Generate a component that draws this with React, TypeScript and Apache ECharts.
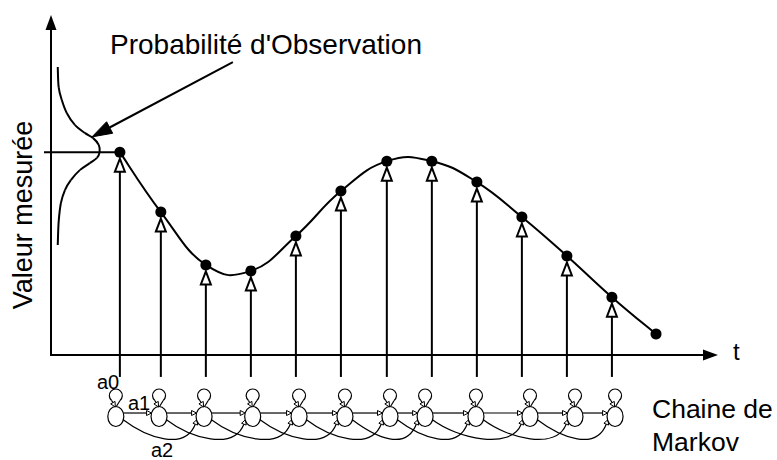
import React, { useEffect, useRef } from 'react';
import * as echarts from 'echarts';

// Measured curve (time index t, measured value v)
const pointT = [0.09, 1, 2, 3, 4, 5, 6.02, 7.02, 8.02, 9.02, 10.02, 11.02, 12];
const pointV = [6.1, 4.3, 2.71, 2.53, 3.58, 4.93, 5.83, 5.83, 5.2, 4.15, 2.98, 1.74, 0.63];
const observedCount = 12;
const arrowBaseV = -0.66;

// Observation probability curve drawn sideways on the value axis
const obsCurveT = [-1.29, -1.27, -1.2, -1.09, -0.91, -0.69, -0.51, -0.38, -0.36, -0.42, -0.58, -0.8, -1.0, -1.13, -1.22, -1.27, -1.29];
const obsCurveV = [8.66, 8.06, 7.67, 7.28, 6.92, 6.68, 6.53, 6.32, 6.1, 5.93, 5.77, 5.56, 5.26, 4.96, 4.57, 4.0, 3.31];
const measuredV = 6.1;
const annotationFrom = [2.6, 8.81];
const annotationTo = [-0.53, 6.56];

// Markov chain states
const markovT = [0.0, 0.96, 1.96, 3.04, 4.07, 5.09, 6.09, 6.87, 8.0, 9.2, 10.2, 11.09];
const markovV = -1.85;

const tMin = -1.44;
const tMax = 13.21;
const vMin = 0;
const vMax = 10;

const FONT = '"Liberation Sans", Arial, Helvetica, sans-serif';

function head(tip: number[], from: number[], len: number, hw: number) {
  const dx = tip[0] - from[0];
  const dy = tip[1] - from[1];
  const L = Math.hypot(dx, dy) || 1;
  const ux = dx / L;
  const uy = dy / L;
  const bx = tip[0] - ux * len;
  const by = tip[1] - uy * len;
  return {
    points: [[tip[0], tip[1]], [bx - uy * hw, by + ux * hw], [bx + uy * hw, by - ux * hw]],
    base: [bx, by],
  };
}

// Smooth curve through points (Catmull-Rom style), drawn segment by segment
function smoothSeries(name: string, ts: number[], vs: number[], k: number) {
  return {
    name,
    type: 'custom',
    coordinateSystem: 'cartesian2d',
    clip: false,
    silent: true,
    data: ts.slice(0, ts.length - 1).map((t, i) => [t, vs[i]]),
    renderItem: (params: any, api: any) => {
      const i = params.dataIndex;
      const n = ts.length;
      const P = (j: number) => api.coord([ts[Math.max(0, Math.min(n - 1, j))], vs[Math.max(0, Math.min(n - 1, j))]]);
      const p0 = P(i - 1);
      const p1 = P(i);
      const p2 = P(i + 1);
      const p3 = P(i + 2);
      return {
        type: 'bezierCurve',
        shape: {
          x1: p1[0], y1: p1[1], x2: p2[0], y2: p2[1],
          cpx1: p1[0] + (p2[0] - p0[0]) * k,
          cpy1: p1[1] + (p2[1] - p0[1]) * k,
          cpx2: p2[0] - (p3[0] - p1[0]) * k,
          cpy2: p2[1] - (p3[1] - p1[1]) * k,
        },
        style: { stroke: '#000', lineWidth: 2, fill: 'none' },
      };
    },
  };
}

export default function App() {
  const ref = useRef<HTMLDivElement>(null);

  useEffect(() => {
    document.body.style.margin = '0';
    const chart = echarts.init(ref.current as HTMLDivElement, null, { renderer: 'svg' });

    const axisCommon = {
      axisTick: { show: false },
      axisLabel: { show: false },
      splitLine: { show: false },
    };

    const option: any = {
      animation: false,
      grid: { left: 51, right: 66.5, top: 22.5, bottom: 105, containLabel: false },
      xAxis: {
        type: 'value',
        min: tMin,
        max: tMax,
        ...axisCommon,
        axisLine: {
          onZero: false,
          symbol: ['none', 'triangle'],
          symbolSize: [11, 15],
          lineStyle: { color: '#000', width: 2 },
        },
      },
      yAxis: {
        type: 'value',
        min: vMin,
        max: vMax,
        ...axisCommon,
        axisLine: {
          onZero: false,
          symbol: ['none', 'triangle'],
          symbolSize: [11, 15],
          lineStyle: { color: '#000', width: 2 },
        },
      },
      graphic: [
        {
          type: 'text', x: 110, y: 44,
          style: { text: "Probabilité d'Observation", font: `28px ${FONT}`, fill: '#000', align: 'left', verticalAlign: 'middle' },
        },
        {
          type: 'text', x: 23, y: 215, rotation: Math.PI / 2,
          style: { text: 'Valeur mesurée', font: `27px ${FONT}`, fill: '#000', align: 'center', verticalAlign: 'middle' },
        },
        {
          type: 'text', x: 733, y: 351,
          style: { text: 't', font: `24px ${FONT}`, fill: '#000', align: 'left', verticalAlign: 'middle' },
        },
        {
          type: 'text', x: 652, y: 409,
          style: { text: 'Chaine de', font: `26.5px ${FONT}`, fill: '#000', align: 'left', verticalAlign: 'middle' },
        },
        {
          type: 'text', x: 652, y: 442,
          style: { text: 'Markov', font: `26.5px ${FONT}`, fill: '#000', align: 'left', verticalAlign: 'middle' },
        },
        {
          type: 'text', x: 108, y: 382,
          style: { text: 'a0', font: `20px ${FONT}`, fill: '#000', align: 'center', verticalAlign: 'middle' },
        },
        {
          type: 'text', x: 139, y: 403,
          style: { text: 'a1', font: `20px ${FONT}`, fill: '#000', align: 'center', verticalAlign: 'middle' },
        },
        {
          type: 'text', x: 162, y: 450,
          style: { text: 'a2', font: `20px ${FONT}`, fill: '#000', align: 'center', verticalAlign: 'middle' },
        },
      ],
      series: [
        smoothSeries('Valeur', pointT, pointV, 0.22),
        smoothSeries('Probabilité', obsCurveT, obsCurveV, 0.17),
        {
          name: 'Points',
          type: 'scatter',
          data: pointT.map((t, i) => [t, pointV[i]]),
          symbol: 'circle',
          symbolSize: 11,
          itemStyle: { color: '#000', opacity: 1 },
          z: 5,
          clip: false,
          silent: true,
        },
        {
          name: 'observations',
          type: 'custom',
          coordinateSystem: 'cartesian2d',
          clip: false,
          silent: true,
          data: pointT.slice(0, observedCount).map((t, i) => [t, pointV[i]]),
          renderItem: (params: any, api: any) => {
            const top = api.coord([api.value(0), api.value(1)]);
            const bottom = api.coord([api.value(0), arrowBaseV]);
            const tipY = top[1] + 6.5;
            const hh = 13;
            const hw = 5;
            return {
              type: 'group',
              children: [
                { type: 'line', shape: { x1: top[0], y1: bottom[1], x2: top[0], y2: tipY + hh }, style: { stroke: '#000', lineWidth: 2 } },
                {
                  type: 'polygon',
                  shape: { points: [[top[0], tipY], [top[0] + hw, tipY + hh], [top[0] - hw, tipY + hh]] },
                  style: { fill: '#fff', stroke: '#000', lineWidth: 2, lineJoin: 'miter' },
                },
              ],
            };
          },
        },
        {
          name: 'mesure',
          type: 'custom',
          coordinateSystem: 'cartesian2d',
          clip: false,
          silent: true,
          data: [[pointT[0], measuredV]],
          renderItem: (params: any, api: any) => {
            const p = api.coord([api.value(0), api.value(1)]);
            const left = api.coord([tMin, api.value(1)]);
            return {
              type: 'line',
              shape: { x1: left[0] - 7, y1: p[1], x2: p[0], y2: p[1] },
              style: { stroke: '#000', lineWidth: 2 },
            };
          },
        },
        {
          name: 'annotation',
          type: 'custom',
          coordinateSystem: 'cartesian2d',
          clip: false,
          silent: true,
          data: [[annotationFrom[0], annotationFrom[1], annotationTo[0], annotationTo[1]]],
          renderItem: (params: any, api: any) => {
            const a = api.coord([api.value(0), api.value(1)]);
            const b = api.coord([api.value(2), api.value(3)]);
            const h = head(b, a, 20, 6.5);
            return {
              type: 'group',
              children: [
                { type: 'line', shape: { x1: a[0], y1: a[1], x2: h.base[0], y2: h.base[1] }, style: { stroke: '#000', lineWidth: 2 } },
                { type: 'polygon', shape: { points: h.points }, style: { fill: '#000', stroke: '#000', lineWidth: 1 } },
              ],
            };
          },
        },
        {
          name: 'Markov',
          type: 'custom',
          coordinateSystem: 'cartesian2d',
          clip: false,
          silent: true,
          data: markovT.map((t) => [t, markovV]),
          renderItem: (params: any, api: any) => {
            const i = params.dataIndex;
            const c = api.coord([markovT[i], markovV]);
            const cx = c[0];
            const cy = c[1];
            const rx = 8;
            const ry = 10;
            const thin = { stroke: '#000', lineWidth: 1.2, fill: 'none' };
            const headStyle = { stroke: '#000', lineWidth: 1, fill: '#fff' };
            const children: any[] = [];
            children.push({ type: 'ellipse', shape: { cx, cy, rx, ry }, style: { stroke: '#000', lineWidth: 1.2, fill: '#fff' } });
            // self loop
            const lcy = cy - 21;
            const lr = 6.5;
            const ang = 0.7;
            children.push({
              type: 'arc',
              shape: { cx, cy: lcy, r: lr, startAngle: Math.PI / 2 + ang, endAngle: Math.PI / 2 - ang + Math.PI * 2, clockwise: true },
              style: thin,
            });
            const lx = lr * Math.sin(ang);
            const ly = lcy + lr * Math.cos(ang);
            children.push({ type: 'line', shape: { x1: cx + lx, y1: ly, x2: cx + 0.5, y2: cy - ry }, style: thin });
            const lh = head([cx - 0.5, cy - ry + 0.5], [cx - lx, ly], 5, 2.5);
            children.push({ type: 'line', shape: { x1: cx - lx, y1: ly, x2: lh.base[0], y2: lh.base[1] }, style: thin });
            children.push({ type: 'polygon', shape: { points: lh.points }, style: headStyle });
            // next state
            if (i + 1 < markovT.length) {
              const n = api.coord([markovT[i + 1], markovV]);
              const yy = cy - 3.5;
              const ex = rx * Math.sqrt(1 - (3.5 / ry) ** 2);
              const h = head([n[0] - ex, n[1] - 3.5], [cx + ex, yy], 5, 2.5);
              children.push({ type: 'line', shape: { x1: cx + ex, y1: yy, x2: h.base[0], y2: h.base[1] }, style: thin });
              children.push({ type: 'polygon', shape: { points: h.points }, style: headStyle });
            }
            // skip state
            if (i + 2 < markovT.length) {
              const m = api.coord([markovT[i + 2], markovV]);
              const x1 = cx + 7;
              const y1 = cy + 3;
              const x2 = m[0] - 7;
              const y2 = m[1] + 3;
              const cp1 = [x1 + 25, cy + 22];
              const cp2 = [x2 - 12, m[1] + 34];
              const h = head([x2, y2], cp2, 5, 2.5);
              children.push({
                type: 'bezierCurve',
                shape: { x1, y1, x2: h.base[0], y2: h.base[1], cpx1: cp1[0], cpy1: cp1[1], cpx2: cp2[0], cpy2: cp2[1] },
                style: thin,
              });
              children.push({ type: 'polygon', shape: { points: h.points }, style: headStyle });
            }
            return { type: 'group', children };
          },
        },
      ],
    };

    chart.setOption(option);
    return () => chart.dispose();
  }, []);

  return <div ref={ref} style={{ width: 777, height: 460 }} />;
}
